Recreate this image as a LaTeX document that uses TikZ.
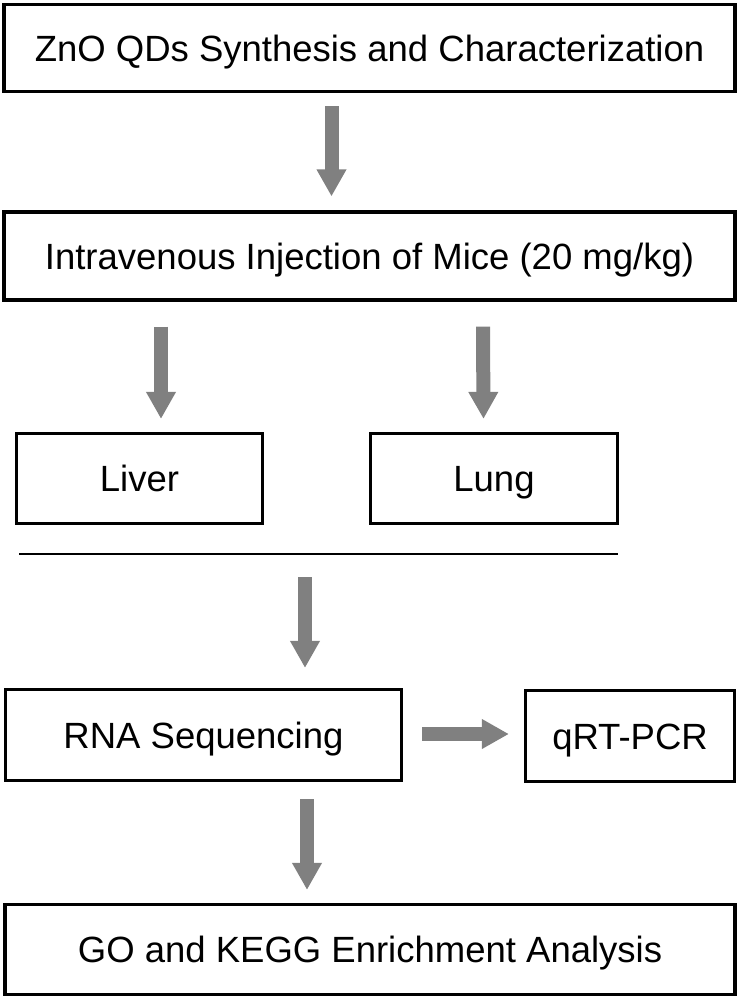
\documentclass[tikz,border=0pt]{standalone}
\usepackage{fontspec}
\setmainfont{Liberation Sans}
\usetikzlibrary{arrows.meta}

\begin{document}
\begin{tikzpicture}[x=1pt,y=-1pt,
  box/.style={draw, line width=3.2pt, inner sep=0pt, text height=26pt, text depth=0pt,
    font=\fontsize{36.5}{40}\selectfont},
  bigarrow/.style={draw=gray, line width=14pt, -{Triangle[width=28pt,length=27pt]}}]
  \useasboundingbox (0,0) rectangle (738,997);

  \node (synth) [box, minimum width=731pt, minimum height=87pt] at (369.5,48) {ZnO QDs Synthesis and Characterization};
  \node (inject) [box, minimum width=731pt, minimum height=88pt] at (369.5,256) {Intravenous Injection of Mice (20 mg/kg)};
  \node (liver) [box, minimum width=246pt, minimum height=90pt] at (139.5,478.5) {Liver};
  \node (lung) [box, minimum width=247pt, minimum height=90pt] at (494,478.5) {Lung};
  \node (rna) [box, minimum width=396pt, minimum height=91pt] at (203.5,735) {RNA Sequencing};
  \node (qpcr) [box, minimum width=209pt, minimum height=91pt] at (630,736) {qRT-PCR};
  \node (enrich) [box, minimum width=730pt, minimum height=90pt] at (370,949.5) {GO and KEGG Enrichment Analysis};

  \coordinate (barL) at (19,554);
  \coordinate (barR) at (618,554);
  \draw [line width=2.5pt] (barL) -- (barR);

  \draw [bigarrow] ([xshift=-38pt,yshift=-13pt]synth.south) -- ([xshift=-38pt,yshift=14pt]inject.north);
  \draw [bigarrow] ([xshift=-208.5pt,yshift=-25pt]inject.south) -- ([xshift=21.5pt,yshift=13pt]liver.north);
  \draw [bigarrow] ([xshift=113.5pt,yshift=-25pt]inject.south) -- ([xshift=-10.5pt,yshift=13pt]lung.north);
  \draw [bigarrow] ([xshift=286pt,yshift=-23pt]barL) -- ([xshift=101.5pt,yshift=20pt]rna.north);
  \draw [bigarrow] ([xshift=19pt,yshift=1pt]rna.east) -- ([xshift=-15pt,yshift=2pt]qpcr.west);
  \draw [bigarrow] ([xshift=103.5pt,yshift=-17pt]rna.south) -- ([xshift=-63pt,yshift=13pt]enrich.north);

\end{tikzpicture}
\end{document}
